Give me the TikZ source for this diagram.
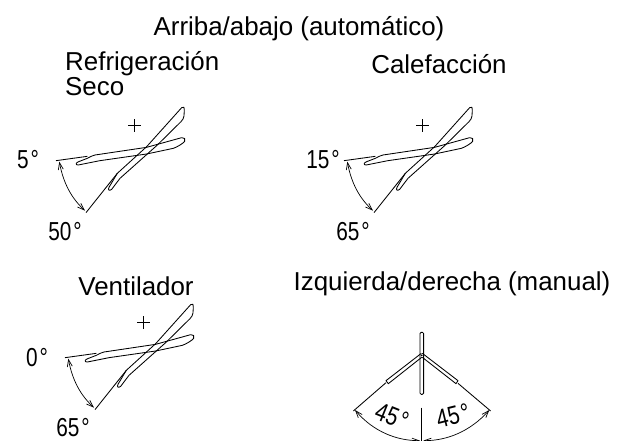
\documentclass[tikz,border=0pt]{standalone}
\usepackage{fontspec}
\setmainfont{Liberation Sans}
\usetikzlibrary{arrows.meta}
\newcommand{\nrw}[1]{\scalebox{0.8}[1]{#1\hspace{2.5pt}°}}
\tikzset{
  lbl/.style={inner sep=0pt,font=\fontsize{25.9}{28}\selectfont},
  num/.style={inner sep=0pt,font=\fontsize{26}{28}\selectfont},
  ink/.style={draw=black,line width=0.85pt,line join=round},
  dimarrow/.style={ink,line width=0.7pt,{Straight Barb[length=7pt,width=5pt]}-{Straight Barb[length=7pt,width=5pt]}},
}
\newcommand{\vanes}{%
  \draw[ink] (168,212) -- (262,199);
  \draw[ink] (262,205) .. controls (272,200) and (276,197) .. (285,195) -- (440,172) -- (545,143) .. controls (553,141) and (558,148) .. (554,154) .. controls (550,160) and (530,172) .. (520,175) -- (440,192) -- (300,212) -- (235,225) .. controls (226,225) and (226,219) .. (236,215) -- cycle;
  \draw[ink] (258,368) -- (352,250);
  \draw[ink] (352,250) -- (440,170) -- (545,53) .. controls (551,48) and (554,52) .. (553,60) -- (552,78) .. controls (551,85) and (548,90) .. (543,95) -- (470,167) -- (360,265) -- (335,298) .. controls (328,304) and (323,300) .. (327,292) -- cycle;
  \draw[ink] (385,107) -- (423,107) (403,87) -- (403,127);
  \draw[dimarrow] (178,215) .. controls (190,280) and (215,325) .. (255,362);
}
\begin{document}
\begin{tikzpicture}[x=1pt,y=-1pt]
\useasboundingbox (0,0) rectangle (623,440);
\fill[white] (0,0) rectangle (623,440);
\node[lbl] (title) at (299,29) {Arriba/abajo (automático)};
\node[lbl,anchor=west] (refri) at (65,64) {Refrigeración};
\node[lbl,anchor=west] (seco) at (65,87) {Seco};
\node[lbl] (cale) at (439,64) {Calefacción};
\node[lbl] (vent) at (136,286) {Ventilador};
\node[lbl] (izq) at (452,284) {Izquierda/derecha (manual)};
\node[num] (a) at (28,160) {\nrw{5}};
\node[num] (b) at (65,232) {\nrw{50}};
\node[num] (c) at (323,160) {\nrw{15}};
\node[num] (d) at (353,232) {\nrw{65}};
\node[num] (e) at (37,358) {\nrw{0}};
\node[num] (f) at (73,428) {\nrw{65}};
\begin{scope}[shift={(0,90)},x=0.3333pt,y=-0.3333pt]\vanes\end{scope}
\begin{scope}[shift={(288,90)},x=0.3333pt,y=-0.3333pt]\vanes\end{scope}
\begin{scope}[shift={(9,287)},x=0.3333pt,y=-0.3333pt]\vanes\end{scope}
\begin{scope}[shift={(330,310)},x=0.3333pt,y=-0.3333pt]
  \draw[ink,rounded corners=1.2pt] (270,67) rectangle (281,253);
  \draw[ink] (274,130) -- (168,212) -- (175,221) -- (275,142);
  \draw[ink] (168,218) -- (70,303);
  \draw[ink] (277,130) -- (384,212) -- (378,221) -- (277,142);
  \draw[ink] (384,220) -- (482,303);
  \fill (275,136) circle (3);
  \draw[ink] (275,293) -- (275,392);
  \draw[dimarrow] (75,300) .. controls (130,365) and (200,392) .. (270,392);
  \draw[dimarrow] (478,300) .. controls (420,365) and (350,392) .. (280,392);
\end{scope}
\node[num,rotate=-22] (g) at (392,416) {\nrw{45}};
\node[num,rotate=14] (h) at (453,416) {\nrw{45}};
\end{tikzpicture}
\end{document}
